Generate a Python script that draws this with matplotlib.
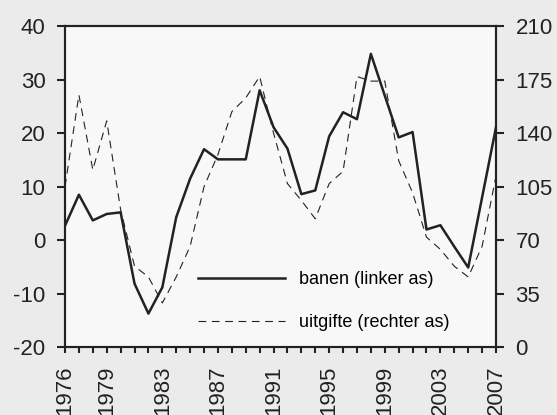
import matplotlib
matplotlib.use("Agg")
import matplotlib.pyplot as plt

plt.rcParams['font.family'] = ['Liberation Sans', 'DejaVu Sans']
plt.rcParams['axes.unicode_minus'] = False

# data
years = list(range(1976, 2008))
banen = [2.7, 8.5, 3.7, 4.9, 5.2, -8.1, -13.7, -8.8, 4.3, 11.5, 17.0,
         15.1, 15.1, 15.1, 28.0, 21.1, 17.1, 8.6, 9.3, 19.4, 23.9,
         22.6, 34.8, 27.0, 19.2, 20.2, 2.0, 2.8, -1.2, -5.1, 8.0, 21.1]
uitgifte = [105, 165, 116, 148, 90, 53, 46, 29, 46, 66, 105,
            126, 154, 163, 177, 140, 107, 96, 84, 107, 115,
            177, 174, 174, 122, 101, 72, 64, 53, 46, 66, 112]
label_years = [1976, 1979, 1983, 1987, 1991, 1995, 1999, 2003, 2007]
left_ticks = [-20, -10, 0, 10, 20, 30, 40]
right_ticks = [0, 35, 70, 105, 140, 175, 210]

dark = '#222222'
fig = plt.figure(figsize=(5.57, 4.15), dpi=100, facecolor='#ebebeb')
ax = fig.add_axes([0.1167, 0.1631, 0.7738, 0.7742])
ax.set_facecolor('#f8f8f8')
ax2 = ax.twinx()

l1, = ax.plot(years, banen, color=dark, lw=1.8, label='banen (linker as)')
l2, = ax2.plot(years, uitgifte, color=dark, lw=0.8, dashes=(7, 5),
               label='uitgifte (rechter as)')

ax.set_xlim(1976, 2007)
ax.set_ylim(-20, 40)
ax2.set_ylim(0, 210)
ax.set_yticks(left_ticks)
ax2.set_yticks(right_ticks)
ax.set_xticks(years)
ax.set_xticklabels([str(y) if y in label_years else '' for y in years],
                   rotation=90)

for a in (ax, ax2):
    for s in a.spines.values():
        s.set_color(dark)
        s.set_linewidth(1.5)
    a.tick_params(colors=dark, labelcolor='#222222', labelsize=16,
                  width=1.5, length=6)
ax.tick_params(axis='y', pad=8)
ax2.tick_params(axis='y', pad=8)
ax.tick_params(axis='x', length=4, pad=9)

leg = ax.legend(handles=[l1, l2], loc='lower right', frameon=False,
                fontsize=13, handlelength=4.8, labelspacing=1.45,
                bbox_to_anchor=(0.93, 0.0))

fig.savefig('out.png', dpi=100, facecolor=fig.get_facecolor())
